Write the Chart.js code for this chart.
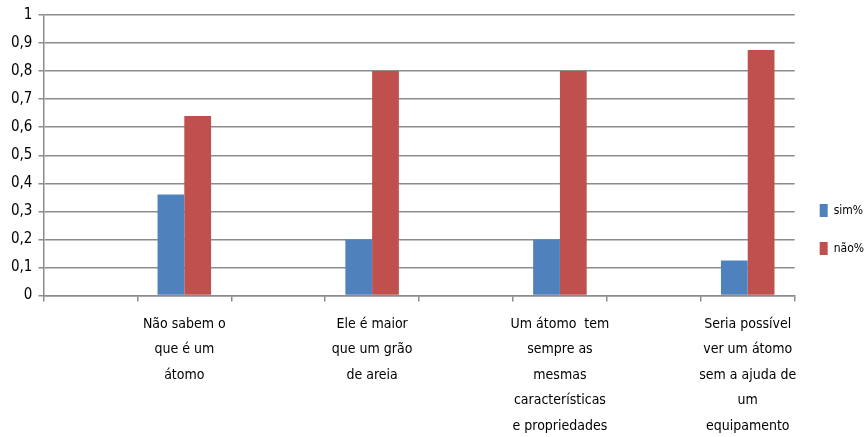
<!DOCTYPE html>
<html>
<head>
<meta charset="utf-8">
<script src="https://cdn.jsdelivr.net/npm/chart.js@4.4.0/dist/chart.umd.min.js"></script>
<style>
  html, body { margin: 0; padding: 0; background: #fff; }
  #wrap { width: 864px; height: 437px; }
</style>
</head>
<body>
<div id="wrap"><canvas id="chart"></canvas></div>
<script>
// empty slots between the questions are kept as blank categories, like in the sheet
const categories = [
  '',
  ['Não sabem o', 'que é um', 'átomo'],
  '',
  ['Ele é maior', 'que um grão', 'de areia'],
  '',
  ['Um átomo  tem', 'sempre as', 'mesmas', 'características', 'e propriedades'],
  '',
  ['Seria possível', 'ver um átomo', 'sem a ajuda de', 'um', 'equipamento']
];
const simValues = [null, 0.36, null, 0.2, null, 0.2, null, 0.125];
const naoValues = [null, 0.64, null, 0.8, null, 0.8, null, 0.875];
const yTicks = { min: 0, max: 1, step: 0.1 };

const FONT = "'Liberation Sans Narrow', 'DejaVu Sans Condensed', 'Liberation Sans', sans-serif";
const GRID = '#8c8c8c';

const ctx = document.getElementById('chart').getContext('2d');
new Chart(ctx, {
  type: 'bar',
  data: {
    labels: categories,
    datasets: [
      { label: 'sim%', data: simValues, backgroundColor: '#4f81bd' },
      { label: 'não%', data: naoValues, backgroundColor: '#c0504d' }
    ]
  },
  options: {
    responsive: true,
    maintainAspectRatio: false,
    animation: false,
    layout: { padding: { left: 5, right: -10, top: 10, bottom: -12 } },
    datasets: { bar: { categoryPercentage: 0.57, barPercentage: 1 } },
    plugins: {
      tooltip: { enabled: false },
      legend: {
        position: 'right',
        labels: {
          font: { family: FONT, size: 12 },
          color: '#000',
          boxWidth: 8,
          boxHeight: 13,
          padding: 25
        }
      }
    },
    scales: {
      x: {
        grid: { drawOnChartArea: false, color: GRID, tickLength: 6, lineWidth: 1.5 },
        border: { color: GRID, width: 1.5 },
        ticks: {
          autoSkip: false,
          maxRotation: 0,
          color: '#000',
          padding: 10,
          font: { family: FONT, size: 14, lineHeight: 1.82 }
        }
      },
      y: {
        min: yTicks.min,
        max: yTicks.max,
        grid: { color: GRID, tickLength: 5, lineWidth: 1.5 },
        border: { color: GRID, width: 1.5 },
        ticks: {
          stepSize: yTicks.step,
          color: '#000',
          padding: 6,
          font: { family: FONT, size: 15 },
          callback: v => String(Math.round(v * 10) / 10).replace('.', ',')
        }
      }
    }
  }
});
</script>
</body>
</html>
